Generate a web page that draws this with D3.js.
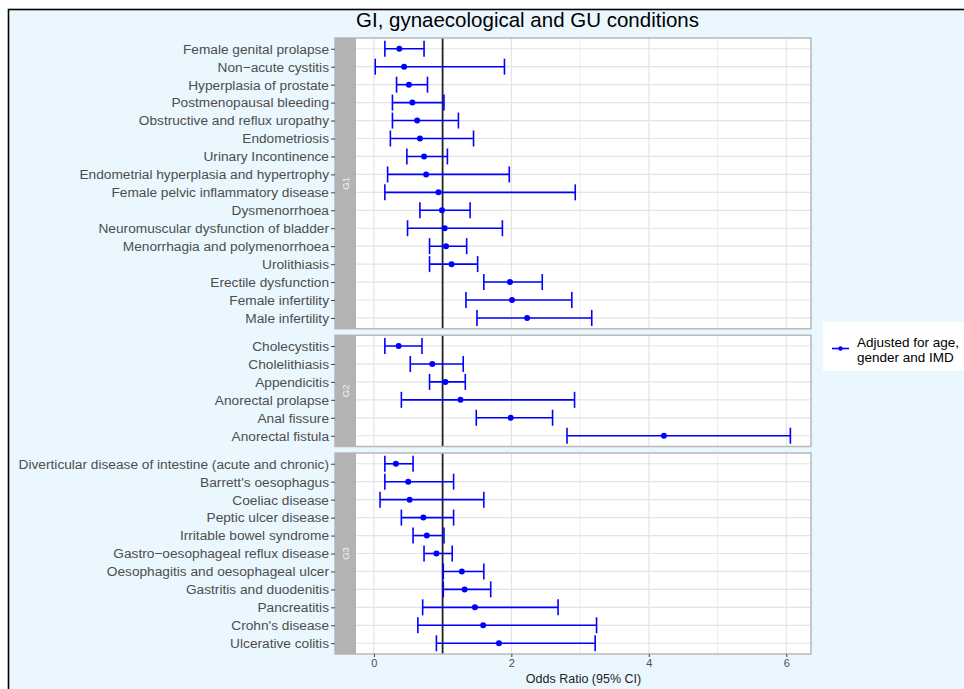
<!DOCTYPE html>
<html><head><meta charset="utf-8">
<script src="https://cdn.jsdelivr.net/npm/d3@7"></script>
<style>body{margin:0;background:#fff;}svg{display:block;font-family:"Liberation Sans",Arial,sans-serif;}</style>
</head><body>
<script>
// ---- data ----
const groupNames = ["G1", "G2", "G3"];
const g1Labels = ["Female genital prolapse","Non\u2212acute cystitis","Hyperplasia of prostate","Postmenopausal bleeding","Obstructive and reflux uropathy","Endometriosis","Urinary Incontinence","Endometrial hyperplasia and hypertrophy","Female pelvic inflammatory disease","Dysmenorrhoea","Neuromuscular dysfunction of bladder","Menorrhagia and polymenorrhoea","Urolithiasis","Erectile dysfunction","Female infertility","Male infertility"];
const g1Est   = [0.37,0.44,0.51,0.56,0.63,0.67,0.73,0.76,0.94,0.99,1.03,1.05,1.13,1.98,2.01,2.23];
const g1Lower = [0.16,0.02,0.33,0.27,0.27,0.24,0.48,0.20,0.16,0.67,0.49,0.81,0.81,1.60,1.34,1.50];
const g1Upper = [0.73,1.90,0.78,1.02,1.23,1.45,1.07,1.97,2.93,1.40,1.87,1.35,1.51,2.45,2.88,3.17];

const g2Labels = ["Cholecystitis","Cholelithiasis","Appendicitis","Anorectal prolapse","Anal fissure","Anorectal fistula"];
const g2Est   = [0.36,0.85,1.04,1.26,1.99,4.22];
const g2Lower = [0.16,0.53,0.81,0.40,1.49,2.81];
const g2Upper = [0.70,1.30,1.33,2.92,2.60,6.06];

const g3Labels = ["Diverticular disease of intestine (acute and chronic)","Barrett's oesophagus","Coeliac disease","Peptic ulcer disease","Irritable bowel syndrome","Gastro\u2212oesophageal reflux disease","Oesophagitis and oesophageal ulcer","Gastritis and duodenitis","Pancreatitis","Crohn's disease","Ulcerative colitis"];
const g3Est   = [0.32,0.50,0.52,0.72,0.77,0.91,1.28,1.32,1.47,1.59,1.82];
const g3Lower = [0.16,0.16,0.09,0.40,0.57,0.73,1.01,1.01,0.71,0.64,0.91];
const g3Upper = [0.57,1.16,1.60,1.16,1.02,1.14,1.60,1.70,2.68,3.24,3.22];

const xTicks = [0, 2, 4, 6];
const xMinor = [1, 3, 5];
const refValue = 1;
const titleText = "GI, gynaecological and GU conditions";
const xTitle = "Odds Ratio (95% CI)";
const legendLines = ["Adjusted for age,", "gender and IMD"];

const groups = [
  {name: groupNames[0], labels: g1Labels, est: g1Est, lo: g1Lower, hi: g1Upper},
  {name: groupNames[1], labels: g2Labels, est: g2Est, lo: g2Lower, hi: g2Upper},
  {name: groupNames[2], labels: g3Labels, est: g3Est, lo: g3Lower, hi: g3Upper}
];

// ---- layout ----
const W = 964, H = 689;
const stripL = 335, panelL = 356, panelR = 811;
const top0 = 38, bottom0 = 654, gap = 6.5, pad = 0.6;
const blue = "#0000ff";

const svg = d3.select("body").append("svg").attr("width", W).attr("height", H);
svg.append("rect").attr("x",0).attr("y",0).attr("width",W).attr("height",H).attr("fill","#fff");
svg.append("rect").attr("x",8.5).attr("y",9.5).attr("width",W+10).attr("height",H+10)
  .attr("fill","#eaf7fe").attr("stroke","#000").attr("stroke-width",1.6);

const x = d3.scaleLinear().domain([-0.26, 6.36]).range([panelL, panelR]);

const units = groups.map(g => g.labels.length - 1 + 2*pad);
const totalU = d3.sum(units);
const step = (bottom0 - top0 - gap*(groups.length-1)) / totalU;

let cur = top0;
groups.forEach((g, gi) => {
  const h = units[gi] * step;
  const t = cur, b = cur + h;
  cur = b + gap;
  const y = d3.scalePoint().domain(g.labels).range([t, b]).padding(pad);
  const p = svg.append("g");
  p.append("rect").attr("x", panelL).attr("y", t).attr("width", panelR-panelL).attr("height", h).attr("fill","#fff");
  p.selectAll(".vmin").data(xMinor).join("line")
    .attr("x1", d=>x(d)).attr("x2", d=>x(d)).attr("y1", t).attr("y2", b)
    .attr("stroke","#ececec").attr("stroke-width",1);
  p.selectAll(".vmaj").data(xTicks).join("line")
    .attr("x1", d=>x(d)).attr("x2", d=>x(d)).attr("y1", t).attr("y2", b)
    .attr("stroke","#e4e4e4").attr("stroke-width",1.2);
  p.selectAll(".hg").data(g.labels).join("line")
    .attr("x1", panelL).attr("x2", panelR).attr("y1", d=>y(d)).attr("y2", d=>y(d))
    .attr("stroke","#e4e4e4").attr("stroke-width",1.2);
  p.append("line").attr("x1", x(refValue)).attr("x2", x(refValue)).attr("y1", t).attr("y2", b)
    .attr("stroke","#222").attr("stroke-width",1.8);
  const rows = g.labels.map((l,i)=>({l, e:g.est[i], lo:g.lo[i], hi:g.hi[i]}));
  p.selectAll(".eb").data(rows).join("line")
    .attr("x1", d=>x(d.lo)).attr("x2", d=>x(d.hi)).attr("y1", d=>y(d.l)).attr("y2", d=>y(d.l))
    .attr("stroke", blue).attr("stroke-width",1.6);
  p.selectAll(".cl").data(rows).join("line")
    .attr("x1", d=>x(d.lo)).attr("x2", d=>x(d.lo)).attr("y1", d=>y(d.l)-8).attr("y2", d=>y(d.l)+8)
    .attr("stroke", blue).attr("stroke-width",1.6);
  p.selectAll(".cr").data(rows).join("line")
    .attr("x1", d=>x(d.hi)).attr("x2", d=>x(d.hi)).attr("y1", d=>y(d.l)-8).attr("y2", d=>y(d.l)+8)
    .attr("stroke", blue).attr("stroke-width",1.6);
  p.selectAll(".pt").data(rows).join("circle")
    .attr("cx", d=>x(d.e)).attr("cy", d=>y(d.l)).attr("r", 3).attr("fill", blue);
  p.append("rect").attr("x", stripL).attr("y", t).attr("width", panelR-stripL).attr("height", h)
    .attr("fill","none").attr("stroke","#b8b8b8").attr("stroke-width",1.5);
  p.append("rect").attr("x", stripL).attr("y", t).attr("width", panelL-stripL).attr("height", h).attr("fill","#b3b3b3");
  p.append("text").attr("transform", `translate(${(stripL+panelL)/2+3.5},${(t+b)/2}) rotate(-90)`)
    .attr("text-anchor","middle").attr("font-size", 9.5).attr("fill","#f2f2f2").text(g.name);
  const ya = svg.append("g").attr("transform", `translate(${stripL},0)`)
    .call(d3.axisLeft(y).tickSize(4).tickPadding(2));
  ya.select(".domain").remove();
  ya.selectAll(".tick line").attr("stroke","#444");
  ya.selectAll(".tick text").attr("font-size", 13.7).attr("fill","#4d4d4d")
    .attr("font-family","'Liberation Sans',Arial,sans-serif");
  if (gi === groups.length-1) {
    const xa = svg.append("g").attr("transform", `translate(0,${b})`)
      .call(d3.axisBottom(x).tickValues(xTicks).tickFormat(d3.format("d")).tickSize(3).tickPadding(2));
    xa.select(".domain").remove();
    xa.selectAll(".tick line").attr("stroke","#444");
    xa.selectAll(".tick text").attr("font-size", 11).attr("fill","#4d4d4d")
      .attr("font-family","'Liberation Sans',Arial,sans-serif");
  }
});

svg.append("text").attr("x", 527.5).attr("y", 27).attr("text-anchor","middle")
  .attr("font-size", 20.5).attr("fill","#000").text(titleText);
svg.append("text").attr("x", (panelL+panelR)/2).attr("y", 682.5).attr("text-anchor","middle")
  .attr("font-size", 12.5).attr("fill","#222").text(xTitle);

const lg = svg.append("g");
lg.append("rect").attr("x", 823).attr("y", 322).attr("width", 150).attr("height", 49).attr("fill","#fff");
lg.append("line").attr("x1", 832).attr("x2", 849).attr("y1", 348.5).attr("y2", 348.5).attr("stroke", blue).attr("stroke-width",1.6);
lg.append("circle").attr("cx", 840.5).attr("cy", 348.5).attr("r", 2.2).attr("fill", blue);
lg.selectAll(".lt").data(legendLines).join("text")
  .attr("x", 857).attr("y", (d,i)=>346.5 + i*15).attr("font-size", 13.5).attr("fill","#000").text(d=>d);
</script>
</body></html>
